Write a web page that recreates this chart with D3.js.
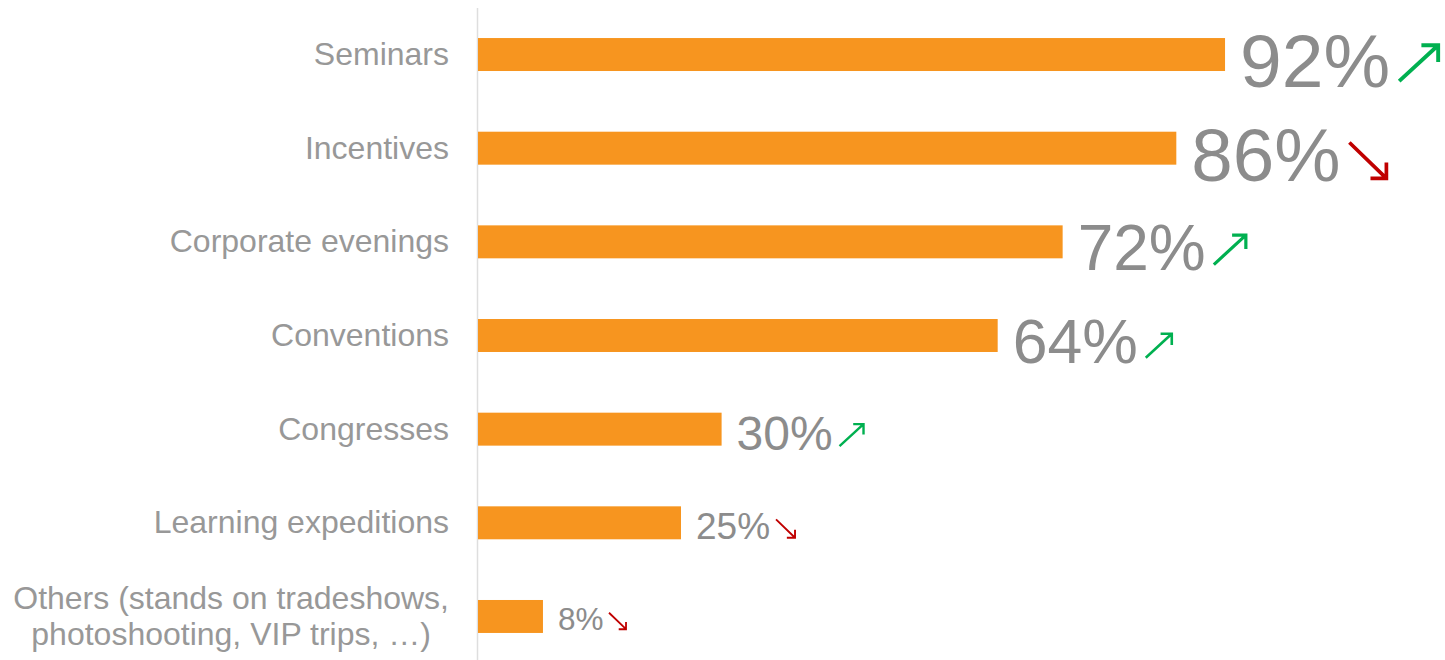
<!DOCTYPE html>
<html>
<head>
<meta charset="utf-8">
<script src="https://cdn.jsdelivr.net/npm/d3@7"></script>
<style>
  html, body { margin: 0; padding: 0; background: #ffffff; }
  svg { display: block; font-family: "Liberation Sans", Arial, sans-serif; }
</style>
</head>
<body>
<svg id="chart" width="1445" height="660"></svg>
<script>
// Event types and their share of respondents (%)
const categories = [
  "Seminars",
  "Incentives",
  "Corporate evenings",
  "Conventions",
  "Congresses",
  "Learning expeditions",
  "Others (stands on tradeshows,|photoshooting, VIP trips, …)"
];
const values = [92, 86, 72, 64, 30, 25, 8];
// Trend compared with the previous edition
const trends = ["up", "down", "up", "up", "up", "down", "down"];

// Value-label typography: font size and trend-arrow size per row
const labelFontSize = [75, 74.5, 64, 62.5, 48, 37, 31.5];
const arrowSize = [39, 37, 32, 26, 24, 19, 17];

const svg = d3.select("#chart");
const barColor = "#f7951f";
const valueColor = "#8c8c8c";
const catColor = "#989898";
const upColor = "#00b050";
const downColor = "#c00000";

const x = d3.scaleLinear().domain([0, 100]).range([478, 1290]);
const y = d3.scaleBand()
  .domain(categories)
  .range([7.7, 663.3])
  .paddingInner(0.648)
  .paddingOuter(0.324);

// Vertical baseline axis
svg.append("line")
  .attr("x1", 477.5).attr("x2", 477.5)
  .attr("y1", 8).attr("y2", 660)
  .attr("stroke", "#dedede")
  .attr("stroke-width", 1.5);

const rows = categories.map((c, i) => ({
  cat: c, value: values[i], trend: trends[i],
  fs: labelFontSize[i], arrow: arrowSize[i]
}));

// Bars
svg.append("g").selectAll("rect")
  .data(rows)
  .join("rect")
  .attr("x", x(0))
  .attr("y", d => y(d.cat))
  .attr("width", d => x(d.value) - x(0))
  .attr("height", y.bandwidth())
  .attr("fill", barColor);

// Category labels: lines centred on each other, block right-aligned
const catFs = 32;
const catG = svg.append("g");
rows.forEach(d => {
  const lines = d.cat.split("|");
  const cy = y(d.cat) + y.bandwidth() / 2;
  const lh = 36;
  const t = catG.append("text")
    .attr("font-size", catFs)
    .attr("fill", catColor)
    .attr("text-anchor", "middle");
  lines.forEach((ln, k) => {
    t.append("tspan")
      .attr("x", 0)
      .attr("y", cy + 0.33 * catFs + (k - (lines.length - 1) / 2) * lh)
      .text(ln);
  });
  const w = t.node().getBBox().width;
  t.attr("transform", `translate(${449 - w / 2},0)`);
});

// Value labels with trend arrows
const valG = svg.append("g");
rows.forEach(d => {
  const cy = y(d.cat) + y.bandwidth() / 2;
  const base = cy + 0.435 * d.fs;
  const tx = x(d.value) + 15;
  const t = valG.append("text")
    .attr("x", tx)
    .attr("y", base)
    .attr("font-size", d.fs)
    .attr("fill", valueColor)
    .text(d.value + "%");
  const end = tx + t.node().getComputedTextLength();
  const ax = end + 3 + 0.08 * d.fs;
  const s = d.arrow;
  const h = 0.43 * s;
  const sw = Math.max(1.8, 0.1 * s);
  let path;
  if (d.trend === "up") {
    const by = base - 0.08 * d.fs;
    const x0 = ax, y0 = by, x1 = ax + s, y1 = by - 0.92 * s;
    path = `M${x0},${y0}L${x1},${y1}M${x1 - h},${y1}L${x1},${y1}L${x1},${y1 + h}`;
  } else {
    const by = base - 0.03 * d.fs;
    const x0 = ax, y0 = by - 0.97 * s, x1 = ax + s, y1 = by;
    path = `M${x0},${y0}L${x1},${y1}M${x1 - h},${y1}L${x1},${y1}L${x1},${y1 - h}`;
  }
  valG.append("path")
    .attr("d", path)
    .attr("fill", "none")
    .attr("stroke", d.trend === "up" ? upColor : downColor)
    .attr("stroke-width", sw)
    .attr("stroke-linecap", "butt")
    .attr("stroke-linejoin", "miter");
});
</script>
</body>
</html>
